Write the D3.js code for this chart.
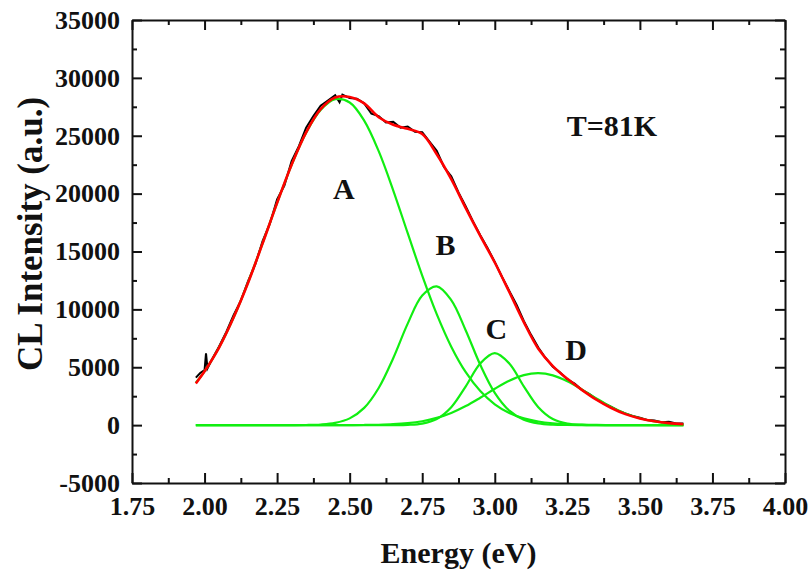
<!DOCTYPE html>
<html>
<head>
<meta charset="utf-8">
<script src="https://cdn.jsdelivr.net/npm/d3@7"></script>
<style>
  body { margin: 0; background: #fff; }
  svg text { font-family: "Liberation Serif", "Times New Roman", serif; font-weight: bold; fill: #111; }
</style>
</head>
<body>
<svg id="chart" width="811" height="571"></svg>
<script>
// energy grid (eV) for the fitted curves
const energy = [1.97, 2.00, 2.05, 2.10, 2.15, 2.20, 2.25, 2.30, 2.35, 2.40, 2.45, 2.50, 2.55, 2.60,
  2.65, 2.70, 2.75, 2.80, 2.85, 2.90, 2.95, 3.00, 3.05, 3.10, 3.15, 3.20, 3.25, 3.30, 3.35, 3.40,
  3.45, 3.50, 3.55, 3.60, 3.65];

// component peaks A-D (green)
const peakA = [3660, 4650, 6710, 9290, 12340, 15710, 19190, 22480, 25260, 27220, 28150, 27870, 26310, 23670,
  20290, 16580, 12920, 9590, 6780, 4570, 2940, 1800, 1050, 584, 310, 157, 75, 35, 15, 6,
  2, 0, 0, 0, 0];
const peakB = [0, 0, 0, 0, 0, 0, 0, 2, 12, 53, 192, 584, 1490, 3210,
  5780, 8770, 11190, 11990, 10800, 8180, 5210, 2790, 1255, 475, 151, 40, 9, 2, 0, 0,
  0, 0, 0, 0, 0];
const peakC = [0, 0, 0, 0, 0, 0, 0, 0, 0, 0, 0, 0, 0, 0,
  3, 24, 131, 527, 1551, 3355, 5330, 6220, 5330, 3355, 1551, 527, 131, 24, 3, 0,
  0, 0, 0, 0, 0];
const peakD = [0, 0, 0, 0, 0, 0, 0, 0, 0, 0, 0, 5, 13, 33,
  78, 169, 338, 622, 1053, 1645, 2370, 3140, 3840, 4320, 4490, 4300, 3790, 3080, 2310, 1590,
  1010, 594, 321, 160, 73];

// total fit (red)
const fitTotal = [3600, 4650, 6700, 9300, 12300, 15700, 19200, 22500, 25300, 27300, 28300, 28350, 27800, 26600,
  25950, 25600, 25150, 23400, 21250, 18750, 16350, 14050, 11500, 8900, 6600, 5100, 4000, 3050, 2200, 1500,
  950, 580, 330, 170, 80];

// measured spectrum (black)
const rawEnergy = [1.97, 1.985, 2.00, 2.005, 2.01, 2.025, 2.05, 2.075, 2.10, 2.125, 2.15, 2.175, 2.20, 2.225,
  2.25, 2.275, 2.30, 2.325, 2.35, 2.375, 2.40, 2.425, 2.45, 2.465, 2.475, 2.50, 2.525, 2.55,
  2.575, 2.60, 2.625, 2.65, 2.675, 2.70, 2.725, 2.75, 2.775, 2.80, 2.825, 2.85, 2.875, 2.90,
  2.925, 2.95, 2.975, 3.00, 3.025, 3.05, 3.075, 3.10, 3.125, 3.15, 3.175, 3.20, 3.225, 3.25,
  3.275, 3.30, 3.325, 3.35, 3.375, 3.40, 3.425, 3.45, 3.475, 3.50, 3.525, 3.55, 3.575, 3.60,
  3.625, 3.65];
const rawIntensity = [4100, 4500, 4750, 6200, 4900, 5650, 6800, 8050, 9500, 10750, 12450, 13900, 15900, 17400,
  19500, 20700, 22800, 24100, 25700, 26700, 27600, 28050, 28500, 27900, 28550, 28250, 28200, 27800,
  26900, 26700, 26150, 26200, 25700, 25800, 25350, 25300, 24500, 23700, 22300, 21500, 20100, 18900,
  17600, 16400, 15300, 14100, 12800, 11600, 10400, 9000, 7800, 6700, 5800, 5050, 4550, 3950,
  3600, 3050, 2700, 2250, 1900, 1600, 1250, 1000, 800, 650, 450, 400, 250, 300,
  150, 150];

const xTicks = [1.75, 2.00, 2.25, 2.50, 2.75, 3.00, 3.25, 3.50, 3.75, 4.00];
const yTicks = [-5000, 0, 5000, 10000, 15000, 20000, 25000, 30000, 35000];

const peakLabels = [
  { text: 'A', e: 2.48, v: 19500 },
  { text: 'B', e: 2.83, v: 14700 },
  { text: 'C', e: 3.005, v: 7400 },
  { text: 'D', e: 3.28, v: 5600 }
];

const margin = { top: 20, right: 26, bottom: 88, left: 132 };
const width = 811, height = 571;

const svg = d3.select('#chart');

const x = d3.scaleLinear().domain([1.75, 4.00]).range([margin.left, width - margin.right]);
const y = d3.scaleLinear().domain([-5000, 35000]).range([height - margin.bottom, margin.top]);

const xMinor = d3.range(0, 9).map(i => 1.875 + i * 0.25);
const yMinor = d3.range(0, 8).map(i => -2500 + i * 5000);

// axes: major + minor ticks on all four sides, pointing inward
function drawAxis(axisFn, scale, pos, major, minor, labels, fmt, pad) {
  const g = svg.append('g').attr('transform', pos);
  g.call(axisFn(scale).tickValues(major).tickSizeInner(-10).tickSizeOuter(0)
    .tickPadding(pad).tickFormat(labels ? fmt : ''));
  const m = svg.append('g').attr('transform', pos);
  m.call(axisFn(scale).tickValues(minor).tickSizeInner(-5).tickSizeOuter(0).tickFormat(''));
  m.select('.domain').remove();
  g.select('.domain').attr('stroke', '#111').attr('stroke-width', 2);
  svg.selectAll('.tick line').attr('stroke', '#111').attr('stroke-width', 2);
  g.selectAll('text').style('font-size', '26px').attr('fill', '#111')
    .style('font-family', '"Liberation Serif", serif').style('font-weight', 'bold');
}

drawAxis(d3.axisBottom, x, `translate(0,${y(-5000)})`, xTicks, xMinor, true, d3.format('.2f'), 14);
drawAxis(d3.axisTop, x, `translate(0,${y(35000)})`, xTicks, xMinor, false);
drawAxis(d3.axisLeft, y, `translate(${x(1.75)},0)`, yTicks, yMinor, true, d => String(d), 12);
drawAxis(d3.axisRight, y, `translate(${x(4.00)},0)`, yTicks, yMinor, false);

const line = d3.line()
  .x(d => x(d[0]))
  .y(d => y(d[1]))
  .curve(d3.curveCatmullRom.alpha(0.5));

// black measured data
svg.append('path')
  .datum(rawEnergy.map((e, i) => [e, rawIntensity[i]]))
  .attr('fill', 'none')
  .attr('stroke', '#000')
  .attr('stroke-width', 2)
  .attr('d', d3.line().x(d => x(d[0])).y(d => y(d[1])));

// green components
[peakA, peakB, peakC, peakD].forEach(p => {
  svg.append('path')
    .datum(energy.map((e, i) => [e, p[i]]))
    .attr('fill', 'none')
    .attr('stroke', '#11ee11')
    .attr('stroke-width', 2.2)
    .attr('d', line);
});

// red fit
svg.append('path')
  .datum(energy.map((e, i) => [e, fitTotal[i]]))
  .attr('fill', 'none')
  .attr('stroke', '#ff0000')
  .attr('stroke-width', 2.6)
  .attr('d', line);

// labels
svg.selectAll('.peak-label')
  .data(peakLabels)
  .enter()
  .append('text')
  .attr('class', 'peak-label')
  .attr('x', d => x(d.e))
  .attr('y', d => y(d.v))
  .attr('text-anchor', 'middle')
  .style('font-size', '30px')
  .text(d => d.text);

svg.append('text')
  .attr('x', 612)
  .attr('y', 136)
  .attr('text-anchor', 'middle')
  .style('font-size', '30px')
  .text('T=81K');

svg.append('text')
  .attr('x', (x(1.75) + x(4.00)) / 2)
  .attr('y', 563)
  .attr('text-anchor', 'middle')
  .style('font-size', '30px')
  .text('Energy (eV)');

svg.append('text')
  .attr('transform', 'translate(42,234) rotate(-90)')
  .attr('text-anchor', 'middle')
  .style('font-size', '35px')
  .text('CL Intensity (a.u.)');
</script>
</body>
</html>
